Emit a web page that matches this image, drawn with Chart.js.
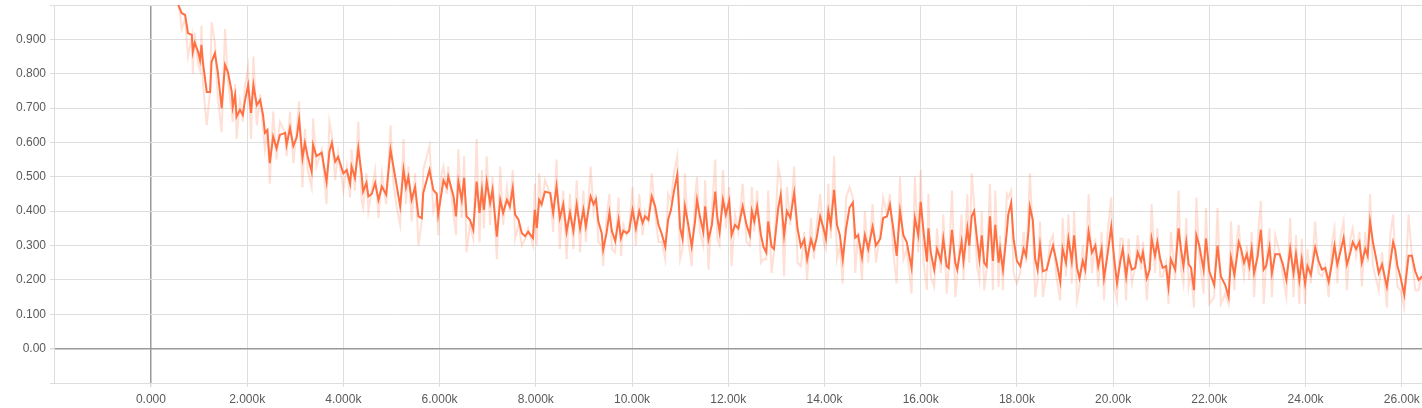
<!DOCTYPE html>
<html><head><meta charset="utf-8">
<script src="https://cdn.jsdelivr.net/npm/chart.js@4.4.1/dist/chart.umd.min.js"></script>
<style>html,body{margin:0;padding:0;background:#fff;overflow:hidden}#wrap{width:1422px;height:408px;position:relative}</style>
</head><body><div id="wrap"><canvas id="c" width="1422" height="408"></canvas></div>
<script>
const steps = [
540,640,710,770,850,870,910,980,1020,1050,
1080,1160,1230,1260,1330,1390,1470,1540,1600,1680,
1700,1750,1780,1850,1910,1950,2020,2080,2130,2200,
2270,2330,2370,2420,2470,2540,2610,2680,2790,2820,
2890,2960,3030,3080,3150,3200,3260,3340,3370,3440,
3550,3650,3710,3760,3830,3890,4000,4070,4140,4170,
4240,4310,4380,4410,4480,4520,4590,4660,4730,4800,
4890,4980,5040,5110,5180,5250,5300,5350,5420,5490,
5560,5630,5660,5790,5870,5940,5970,6040,6080,6150,
6180,6290,6340,6390,6460,6510,6560,6630,6700,6770,
6830,6880,6920,6980,7050,7100,7190,7260,7320,7400,
7460,7520,7570,7640,7710,7780,7840,7940,7980,8020,
8070,8120,8190,8300,8360,8430,8500,8570,8640,8710,
8780,8850,8920,8990,9040,9140,9200,9250,9300,9370,
9400,9470,9530,9580,9650,9720,9770,9820,9890,9940,
10010,10080,10150,10220,10270,10340,10410,10480,10550,10620,
10690,10750,10810,10870,10940,11000,11050,11100,11170,11240,
11310,11350,11410,11480,11520,11590,11660,11730,11770,11820,
11890,11950,12020,12070,12140,12210,12300,12380,12450,12490,
12540,12600,12680,12730,12790,12830,12900,12950,13040,13090,
13160,13220,13290,13370,13440,13510,13580,13640,13720,13780,
13840,13910,13980,14030,14080,14130,14200,14260,14320,14380,
14450,14520,14590,14640,14700,14780,14840,14910,15000,15070,
15160,15220,15300,15360,15430,15500,15570,15640,15710,15810,
15880,15950,16000,16060,16130,16160,16210,16280,16340,16420,
16470,16540,16580,16650,16720,16760,16850,16890,16970,17010,
17060,17110,17170,17220,17270,17320,17370,17440,17500,17550,
17620,17650,17710,17790,17820,17880,17930,18000,18070,18140,
18190,18240,18270,18330,18380,18430,18480,18540,18620,18690,
18750,18820,18900,18950,19020,19070,19140,19190,19250,19300,
19370,19420,19490,19560,19630,19690,19760,19810,19880,19960,
20020,20080,20150,20200,20270,20320,20390,20460,20510,20580,
20620,20700,20760,20800,20870,20920,20980,21030,21100,21150,
21200,21290,21360,21410,21460,21520,21570,21620,21680,21730,
21790,21880,21930,22000,22100,22170,22240,22330,22400,22450,
22520,22570,22610,22660,22720,22780,22830,22880,22930,23000,
23070,23130,23180,23250,23300,23370,23460,23530,23600,23680,
23750,23800,23870,23920,23990,24040,24110,24200,24270,24340,
24410,24480,24550,24600,24660,24720,24790,24860,24930,24980,
25050,25120,25170,25240,25290,25340,25400,25470,25520,25590,
25690,25760,25820,25860,25910,25970,26050,26140,26210,26280,
26350,26420
];
const smoothed = [
1.01,0.976,0.971,0.918,0.913,0.864,0.89,0.864,0.84,0.884,
0.834,0.747,0.747,0.834,0.86,0.805,0.70,0.826,0.805,0.747,
0.703,0.738,0.675,0.695,0.68,0.718,0.767,0.686,0.767,0.709,
0.724,0.68,0.628,0.636,0.54,0.617,0.583,0.622,0.628,0.593,
0.642,0.59,0.615,0.666,0.555,0.599,0.558,0.515,0.593,0.56,
0.57,0.486,0.573,0.599,0.544,0.558,0.51,0.52,0.48,0.53,
0.497,0.583,0.506,0.457,0.482,0.443,0.45,0.482,0.433,0.472,
0.448,0.579,0.53,0.472,0.414,0.52,0.47,0.50,0.433,0.47,
0.385,0.38,0.453,0.52,0.462,0.45,0.39,0.453,0.49,0.47,
0.50,0.443,0.385,0.486,0.433,0.497,0.385,0.375,0.346,0.486,
0.395,0.462,0.404,0.486,0.424,0.462,0.326,0.433,0.395,0.433,
0.414,0.467,0.39,0.375,0.336,0.327,0.34,0.322,0.404,0.351,
0.433,0.42,0.457,0.453,0.395,0.472,0.38,0.42,0.34,0.395,
0.343,0.419,0.35,0.404,0.356,0.443,0.42,0.434,0.37,0.336,
0.288,0.336,0.395,0.343,0.313,0.375,0.322,0.343,0.336,0.343,
0.404,0.35,0.40,0.366,0.385,0.375,0.443,0.414,0.36,0.333,
0.297,0.375,0.404,0.457,0.506,0.351,0.32,0.414,0.36,0.297,
0.37,0.433,0.385,0.34,0.414,0.318,0.36,0.457,0.385,0.34,
0.433,0.39,0.43,0.331,0.36,0.35,0.414,0.36,0.33,0.40,
0.37,0.414,0.33,0.297,0.28,0.37,0.297,0.29,0.41,0.448,
0.33,0.40,0.38,0.453,0.35,0.297,0.318,0.26,0.318,0.29,
0.323,0.385,0.35,0.32,0.40,0.36,0.462,0.36,0.33,0.26,
0.35,0.41,0.425,0.323,0.33,0.265,0.33,0.29,0.355,0.30,
0.32,0.38,0.385,0.419,0.35,0.27,0.40,0.33,0.31,0.235,
0.38,0.33,0.427,0.34,0.253,0.35,0.28,0.23,0.29,0.255,
0.32,0.24,0.235,0.346,0.25,0.23,0.31,0.255,0.35,0.30,
0.385,0.40,0.32,0.26,0.33,0.25,0.24,0.385,0.255,0.36,
0.25,0.29,0.23,0.34,0.39,0.424,0.32,0.255,0.24,0.29,
0.27,0.34,0.413,0.375,0.26,0.23,0.30,0.225,0.23,0.27,
0.30,0.255,0.195,0.29,0.25,0.32,0.255,0.33,0.235,0.205,
0.255,0.23,0.34,0.28,0.30,0.24,0.29,0.205,0.27,0.355,
0.265,0.19,0.255,0.29,0.21,0.265,0.23,0.235,0.28,0.255,
0.28,0.205,0.23,0.32,0.27,0.31,0.26,0.235,0.24,0.18,
0.26,0.23,0.35,0.29,0.24,0.31,0.245,0.235,0.17,0.33,
0.30,0.23,0.32,0.225,0.185,0.30,0.21,0.185,0.15,0.265,
0.215,0.265,0.31,0.29,0.25,0.275,0.24,0.29,0.22,0.265,
0.346,0.23,0.24,0.295,0.22,0.275,0.275,0.245,0.20,0.29,
0.22,0.275,0.20,0.26,0.19,0.24,0.215,0.294,0.255,0.23,
0.235,0.195,0.25,0.30,0.245,0.28,0.322,0.245,0.28,0.31,
0.29,0.31,0.25,0.29,0.27,0.37,0.31,0.26,0.22,0.245,
0.18,0.25,0.31,0.29,0.24,0.21,0.157,0.27,0.27,0.225,
0.20,0.21
];
const raw = [
1.05,0.93,0.96,0.85,0.91,0.80,0.92,0.83,0.81,0.94,
0.77,0.65,0.75,0.95,0.89,0.73,0.63,0.93,0.78,0.69,
0.66,0.77,0.61,0.72,0.66,0.76,0.82,0.61,0.85,0.65,
0.74,0.64,0.58,0.64,0.48,0.69,0.55,0.66,0.63,0.56,
0.69,0.54,0.64,0.72,0.47,0.64,0.52,0.47,0.67,0.53,
0.58,0.42,0.66,0.62,0.49,0.57,0.46,0.53,0.44,0.58,
0.46,0.66,0.43,0.41,0.51,0.40,0.46,0.52,0.38,0.51,
0.42,0.65,0.48,0.41,0.36,0.61,0.42,0.53,0.37,0.51,
0.30,0.37,0.52,0.59,0.40,0.44,0.33,0.51,0.53,0.45,
0.53,0.39,0.33,0.58,0.38,0.56,0.28,0.36,0.32,0.61,
0.31,0.52,0.35,0.56,0.36,0.50,0.26,0.53,0.36,0.47,
0.40,0.52,0.32,0.36,0.30,0.32,0.35,0.30,0.48,0.30,
0.51,0.41,0.49,0.45,0.34,0.55,0.29,0.46,0.26,0.45,
0.29,0.49,0.28,0.46,0.31,0.53,0.40,0.45,0.31,0.30,
0.24,0.38,0.45,0.29,0.28,0.44,0.27,0.36,0.33,0.35,
0.47,0.30,0.45,0.33,0.40,0.37,0.51,0.39,0.31,0.31,
0.26,0.45,0.43,0.51,0.56,0.26,0.29,0.51,0.31,0.24,
0.44,0.50,0.34,0.30,0.49,0.23,0.40,0.55,0.32,0.30,
0.52,0.35,0.47,0.24,0.39,0.34,0.48,0.31,0.30,0.47,
0.34,0.46,0.25,0.26,0.26,0.46,0.22,0.28,0.53,0.49,
0.21,0.47,0.36,0.53,0.25,0.24,0.34,0.20,0.38,0.26,
0.36,0.45,0.31,0.29,0.48,0.32,0.56,0.26,0.30,0.19,
0.44,0.47,0.44,0.22,0.34,0.20,0.40,0.25,0.42,0.25,
0.34,0.44,0.39,0.45,0.28,0.19,0.50,0.26,0.29,0.16,
0.50,0.28,0.52,0.25,0.17,0.45,0.21,0.18,0.35,0.22,
0.39,0.16,0.23,0.46,0.15,0.21,0.39,0.20,0.45,0.25,
0.51,0.42,0.24,0.20,0.40,0.17,0.23,0.48,0.17,0.46,
0.18,0.33,0.17,0.45,0.44,0.46,0.22,0.19,0.22,0.34,
0.25,0.41,0.51,0.34,0.15,0.20,0.37,0.15,0.23,0.31,
0.33,0.21,0.14,0.38,0.21,0.39,0.19,0.40,0.14,0.18,
0.30,0.20,0.45,0.22,0.32,0.18,0.34,0.14,0.33,0.44,
0.18,0.14,0.32,0.32,0.14,0.32,0.19,0.24,0.33,0.23,
0.31,0.14,0.26,0.42,0.22,0.35,0.21,0.21,0.25,0.13,
0.34,0.20,0.46,0.23,0.19,0.38,0.18,0.22,0.12,0.44,
0.27,0.16,0.41,0.13,0.15,0.41,0.13,0.16,0.13,0.37,
0.17,0.31,0.36,0.27,0.21,0.30,0.20,0.34,0.15,0.31,
0.43,0.13,0.25,0.35,0.15,0.33,0.28,0.21,0.15,0.38,
0.15,0.33,0.13,0.32,0.13,0.29,0.19,0.37,0.22,0.21,
0.24,0.15,0.31,0.35,0.19,0.32,0.37,0.17,0.32,0.35,
0.27,0.34,0.18,0.34,0.25,0.45,0.24,0.20,0.17,0.28,
0.12,0.33,0.39,0.27,0.18,0.17,0.12,0.39,0.27,0.17,
0.17,0.22
];
const xTickValues = [0,2000,4000,6000,8000,10000,12000,14000,16000,18000,20000,22000,24000,26000];
const xTickLabels = ['0.000','2.000k','4.000k','6.000k','8.000k','10.00k','12.00k','14.00k','16.00k','18.00k','20.00k','22.00k','24.00k','26.00k'];
const yTickValues = [-0.1,0,0.1,0.2,0.3,0.4,0.5,0.6,0.7,0.8,0.9,1.0];
const yTickLabels = ['','0.00','0.100','0.200','0.300','0.400','0.500','0.600','0.700','0.800','0.900',''];

const FONT = {family:'"Liberation Sans", Arial, sans-serif', size:12};
const isZero = ctx => ctx.tick && Math.abs(ctx.tick.value) < 1e-9;

new Chart(document.getElementById('c'), {
  type: 'line',
  data: {
    datasets: [
      {
        label: 'smoothed',
        data: steps.map((s,i)=>({x:s, y:smoothed[i]})),
        borderColor: '#ff7043',
        borderWidth: 2,
        pointRadius: 0,
        tension: 0,
        order: 0
      },
      {
        label: 'raw',
        data: steps.map((s,i)=>({x:s, y:raw[i]})),
        borderColor: 'rgba(255,112,67,0.22)',
        borderWidth: 2,
        pointRadius: 0,
        tension: 0,
        order: 1
      }
    ]
  },
  options: {
    responsive: false,
    devicePixelRatio: 1,
    animation: false,
    layout: {padding: {top:5, right:0, left:0, bottom:0}},
    plugins: {legend:{display:false}, tooltip:{enabled:false}},
    scales: {
      x: {
        type: 'linear',
        min: -2015,
        max: 26420,
        afterBuildTicks: s => { s.ticks = xTickValues.map(v=>({value:v})); },
        afterFit: s => { s.height = 25; s.paddingLeft = 0; s.paddingRight = 0; },
        ticks: {
          callback: (v,i) => xTickLabels[i],
          autoSkip: false, maxRotation: 0, font: FONT, color: '#5a5a5a', padding: 5
        },
        grid: {
          color: ctx => isZero(ctx) ? '#9a9a9a' : '#dedede',
          lineWidth: ctx => isZero(ctx) ? 1.5 : 1,
          tickColor: '#dedede',
          tickLength: 4
        },
        border: {color: '#dedede', width: 1}
      },
      y: {
        type: 'linear',
        min: -0.1,
        max: 1.0,
        afterBuildTicks: s => { s.ticks = yTickValues.map(v=>({value:v})); },
        afterFit: s => { s.width = 54; s.paddingTop = 0; s.paddingBottom = 0; },
        ticks: {
          callback: (v,i) => yTickLabels[i],
          autoSkip: false, font: FONT, color: '#5a5a5a', padding: 4
        },
        grid: {
          color: ctx => isZero(ctx) ? '#9a9a9a' : '#dedede',
          lineWidth: ctx => isZero(ctx) ? 1.5 : 1,
          tickColor: '#dedede',
          tickLength: 4
        },
        border: {color: '#dedede', width: 1}
      }
    }
  }
});
</script>
</body></html>
